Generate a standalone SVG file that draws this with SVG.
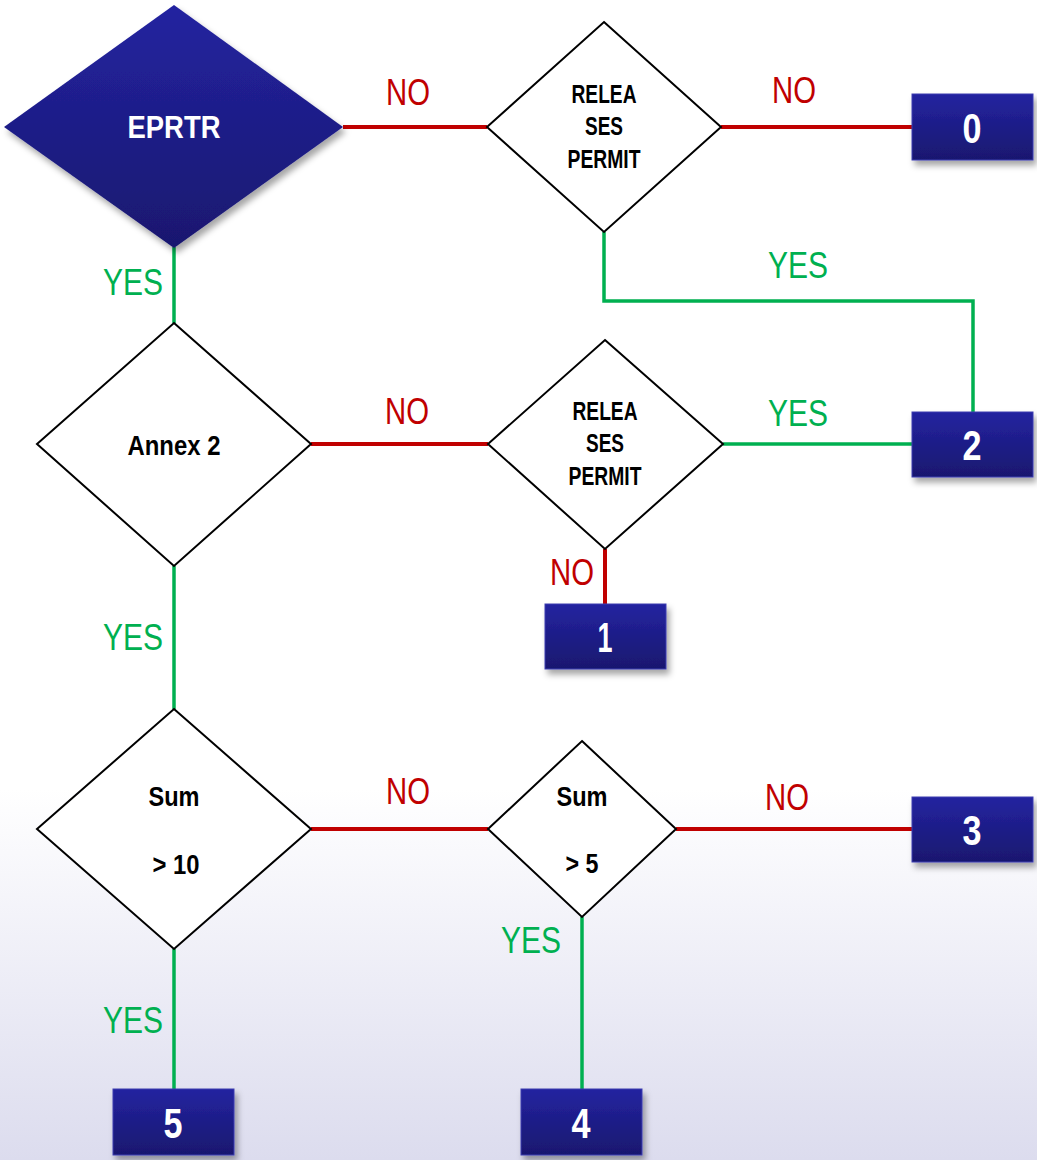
<svg xmlns="http://www.w3.org/2000/svg" width="1037" height="1160" viewBox="0 0 1037 1160">
  <defs>
    <linearGradient id="bg" x1="0" y1="0" x2="0" y2="1">
      <stop offset="0" stop-color="#ffffff"/>
      <stop offset="0.68" stop-color="#ffffff"/>
      <stop offset="1" stop-color="#dcdcee"/>
    </linearGradient>
    <linearGradient id="navy" x1="0" y1="0" x2="0" y2="1">
      <stop offset="0" stop-color="#2323a0"/>
      <stop offset="1" stop-color="#19186f"/>
    </linearGradient>
    <filter id="shadow" x="-20%" y="-20%" width="150%" height="160%">
      <feDropShadow dx="3" dy="5" stdDeviation="3" flood-color="#000" flood-opacity="0.35"/>
    </filter>
  </defs>
  <style>
    .diaw { fill: #ffffff; stroke: #000; stroke-width: 2; }
    .box { fill: url(#navy); stroke: #3c3cb0; stroke-width: 1; filter: url(#shadow); }
    .red { fill: none; stroke: #c00000; stroke-width: 4; }
    .green { fill: none; stroke: #00b050; stroke-width: 3.5; }
    .no { font-family: "Liberation Sans Narrow", "Liberation Sans", Arial, sans-serif; font-size: 36px; fill: #c00000; text-anchor: middle; }
    .yes { font-family: "Liberation Sans Narrow", "Liberation Sans", Arial, sans-serif; font-size: 36px; fill: #00b050; text-anchor: middle; }
    .nt { font-family: "Liberation Sans Narrow", "Liberation Sans", Arial, sans-serif; font-weight: bold; font-size: 25px; fill: #000; text-anchor: middle; }
    .sum { font-family: "Liberation Sans Narrow", "Liberation Sans", Arial, sans-serif; font-weight: bold; font-size: 28px; fill: #000; text-anchor: middle; }
    .num { font-family: "Liberation Sans Narrow", "Liberation Sans", Arial, sans-serif; font-weight: bold; font-size: 43px; fill: #ffffff; text-anchor: middle; }
    .ep { font-family: "Liberation Sans Narrow", "Liberation Sans", Arial, sans-serif; font-weight: bold; font-size: 32px; fill: #ffffff; text-anchor: middle; }
  </style>
  <rect x="0" y="0" width="1037" height="1160" fill="url(#bg)"/>

  <g id="connectors">
    <line class="red" x1="343" y1="127" x2="487" y2="127"/>
    <line class="red" x1="721" y1="127" x2="912" y2="127"/>
    <polyline class="green" points="604,232 604,301 973,301 973,412"/>
    <line class="green" x1="174" y1="247" x2="174" y2="323"/>
    <line class="red" x1="311" y1="444" x2="488" y2="444"/>
    <line class="green" x1="723" y1="444" x2="912" y2="444"/>
    <line class="red" x1="605" y1="549" x2="605" y2="604"/>
    <line class="green" x1="174" y1="566" x2="174" y2="709"/>
    <line class="red" x1="311" y1="829" x2="488" y2="829"/>
    <line class="red" x1="676" y1="829" x2="912" y2="829"/>
    <line class="green" x1="582" y1="917" x2="582" y2="1089"/>
    <line class="green" x1="174" y1="949" x2="174" y2="1089"/>

    <text class="no" x="408" y="105" textLength="44" lengthAdjust="spacingAndGlyphs">NO</text>
    <text class="no" x="794" y="103" textLength="44" lengthAdjust="spacingAndGlyphs">NO</text>
    <text class="yes" x="798" y="278" textLength="60" lengthAdjust="spacingAndGlyphs">YES</text>
    <text class="yes" x="133" y="295" textLength="60" lengthAdjust="spacingAndGlyphs">YES</text>
    <text class="no" x="407" y="424" textLength="44" lengthAdjust="spacingAndGlyphs">NO</text>
    <text class="yes" x="798" y="426" textLength="60" lengthAdjust="spacingAndGlyphs">YES</text>
    <text class="no" x="572" y="585" textLength="44" lengthAdjust="spacingAndGlyphs">NO</text>
    <text class="yes" x="133" y="650" textLength="60" lengthAdjust="spacingAndGlyphs">YES</text>
    <text class="no" x="408" y="804" textLength="44" lengthAdjust="spacingAndGlyphs">NO</text>
    <text class="no" x="787" y="810" textLength="44" lengthAdjust="spacingAndGlyphs">NO</text>
    <text class="yes" x="531" y="953" textLength="60" lengthAdjust="spacingAndGlyphs">YES</text>
    <text class="yes" x="133" y="1033" textLength="60" lengthAdjust="spacingAndGlyphs">YES</text>
  </g>

  <g id="eprtr">
    <polygon points="174,5 343,127 174,248 4,127" fill="url(#navy)" filter="url(#shadow)"/>
    <text class="ep" x="174" y="138" textLength="93" lengthAdjust="spacingAndGlyphs">EPRTR</text>
  </g>

  <g id="releases1">
    <polygon class="diaw" points="604,22 721,127 604,232 487,127"/>
    <text class="nt" x="604" y="103" textLength="65" lengthAdjust="spacingAndGlyphs">RELEA</text>
    <text class="nt" x="604" y="135" textLength="38" lengthAdjust="spacingAndGlyphs">SES</text>
    <text class="nt" x="604" y="168" textLength="73" lengthAdjust="spacingAndGlyphs">PERMIT</text>
  </g>

  <g id="box0">
    <rect class="box" x="912" y="94" width="121" height="66"/>
    <text class="num" x="972" y="143" textLength="19" lengthAdjust="spacingAndGlyphs">0</text>
  </g>

  <g id="annex2">
    <polygon class="diaw" points="174,323 311,444 174,566 37,444"/>
    <text class="sum" x="174" y="455" textLength="93" lengthAdjust="spacingAndGlyphs">Annex 2</text>
  </g>

  <g id="releases2">
    <polygon class="diaw" points="605,340 723,444 605,549 488,444"/>
    <text class="nt" x="605" y="420" textLength="65" lengthAdjust="spacingAndGlyphs">RELEA</text>
    <text class="nt" x="605" y="452" textLength="38" lengthAdjust="spacingAndGlyphs">SES</text>
    <text class="nt" x="605" y="485" textLength="73" lengthAdjust="spacingAndGlyphs">PERMIT</text>
  </g>

  <g id="box2">
    <rect class="box" x="912" y="412" width="121" height="65"/>
    <text class="num" x="972" y="460" textLength="19" lengthAdjust="spacingAndGlyphs">2</text>
  </g>

  <g id="box1">
    <rect class="box" x="545" y="604" width="121" height="65"/>
    <text class="num" x="605" y="652" textLength="15" lengthAdjust="spacingAndGlyphs">1</text>
  </g>

  <g id="sum10">
    <polygon class="diaw" points="174,709 311,829 174,949 37,829"/>
    <text class="sum" x="174" y="806" textLength="51" lengthAdjust="spacingAndGlyphs">Sum</text>
    <text class="sum" x="176" y="874" textLength="47" lengthAdjust="spacingAndGlyphs">&gt; 10</text>
  </g>

  <g id="sum5">
    <polygon class="diaw" points="582,741 676,829 582,917 488,829"/>
    <text class="sum" x="582" y="806" textLength="51" lengthAdjust="spacingAndGlyphs">Sum</text>
    <text class="sum" x="582" y="873" textLength="33" lengthAdjust="spacingAndGlyphs">&gt; 5</text>
  </g>

  <g id="box3">
    <rect class="box" x="912" y="797" width="121" height="65"/>
    <text class="num" x="972" y="845" textLength="19" lengthAdjust="spacingAndGlyphs">3</text>
  </g>

  <g id="box4">
    <rect class="box" x="521" y="1089" width="121" height="66"/>
    <text class="num" x="581" y="1138" textLength="19" lengthAdjust="spacingAndGlyphs">4</text>
  </g>

  <g id="box5">
    <rect class="box" x="113" y="1089" width="121" height="66"/>
    <text class="num" x="173" y="1138" textLength="19" lengthAdjust="spacingAndGlyphs">5</text>
  </g>
</svg>
